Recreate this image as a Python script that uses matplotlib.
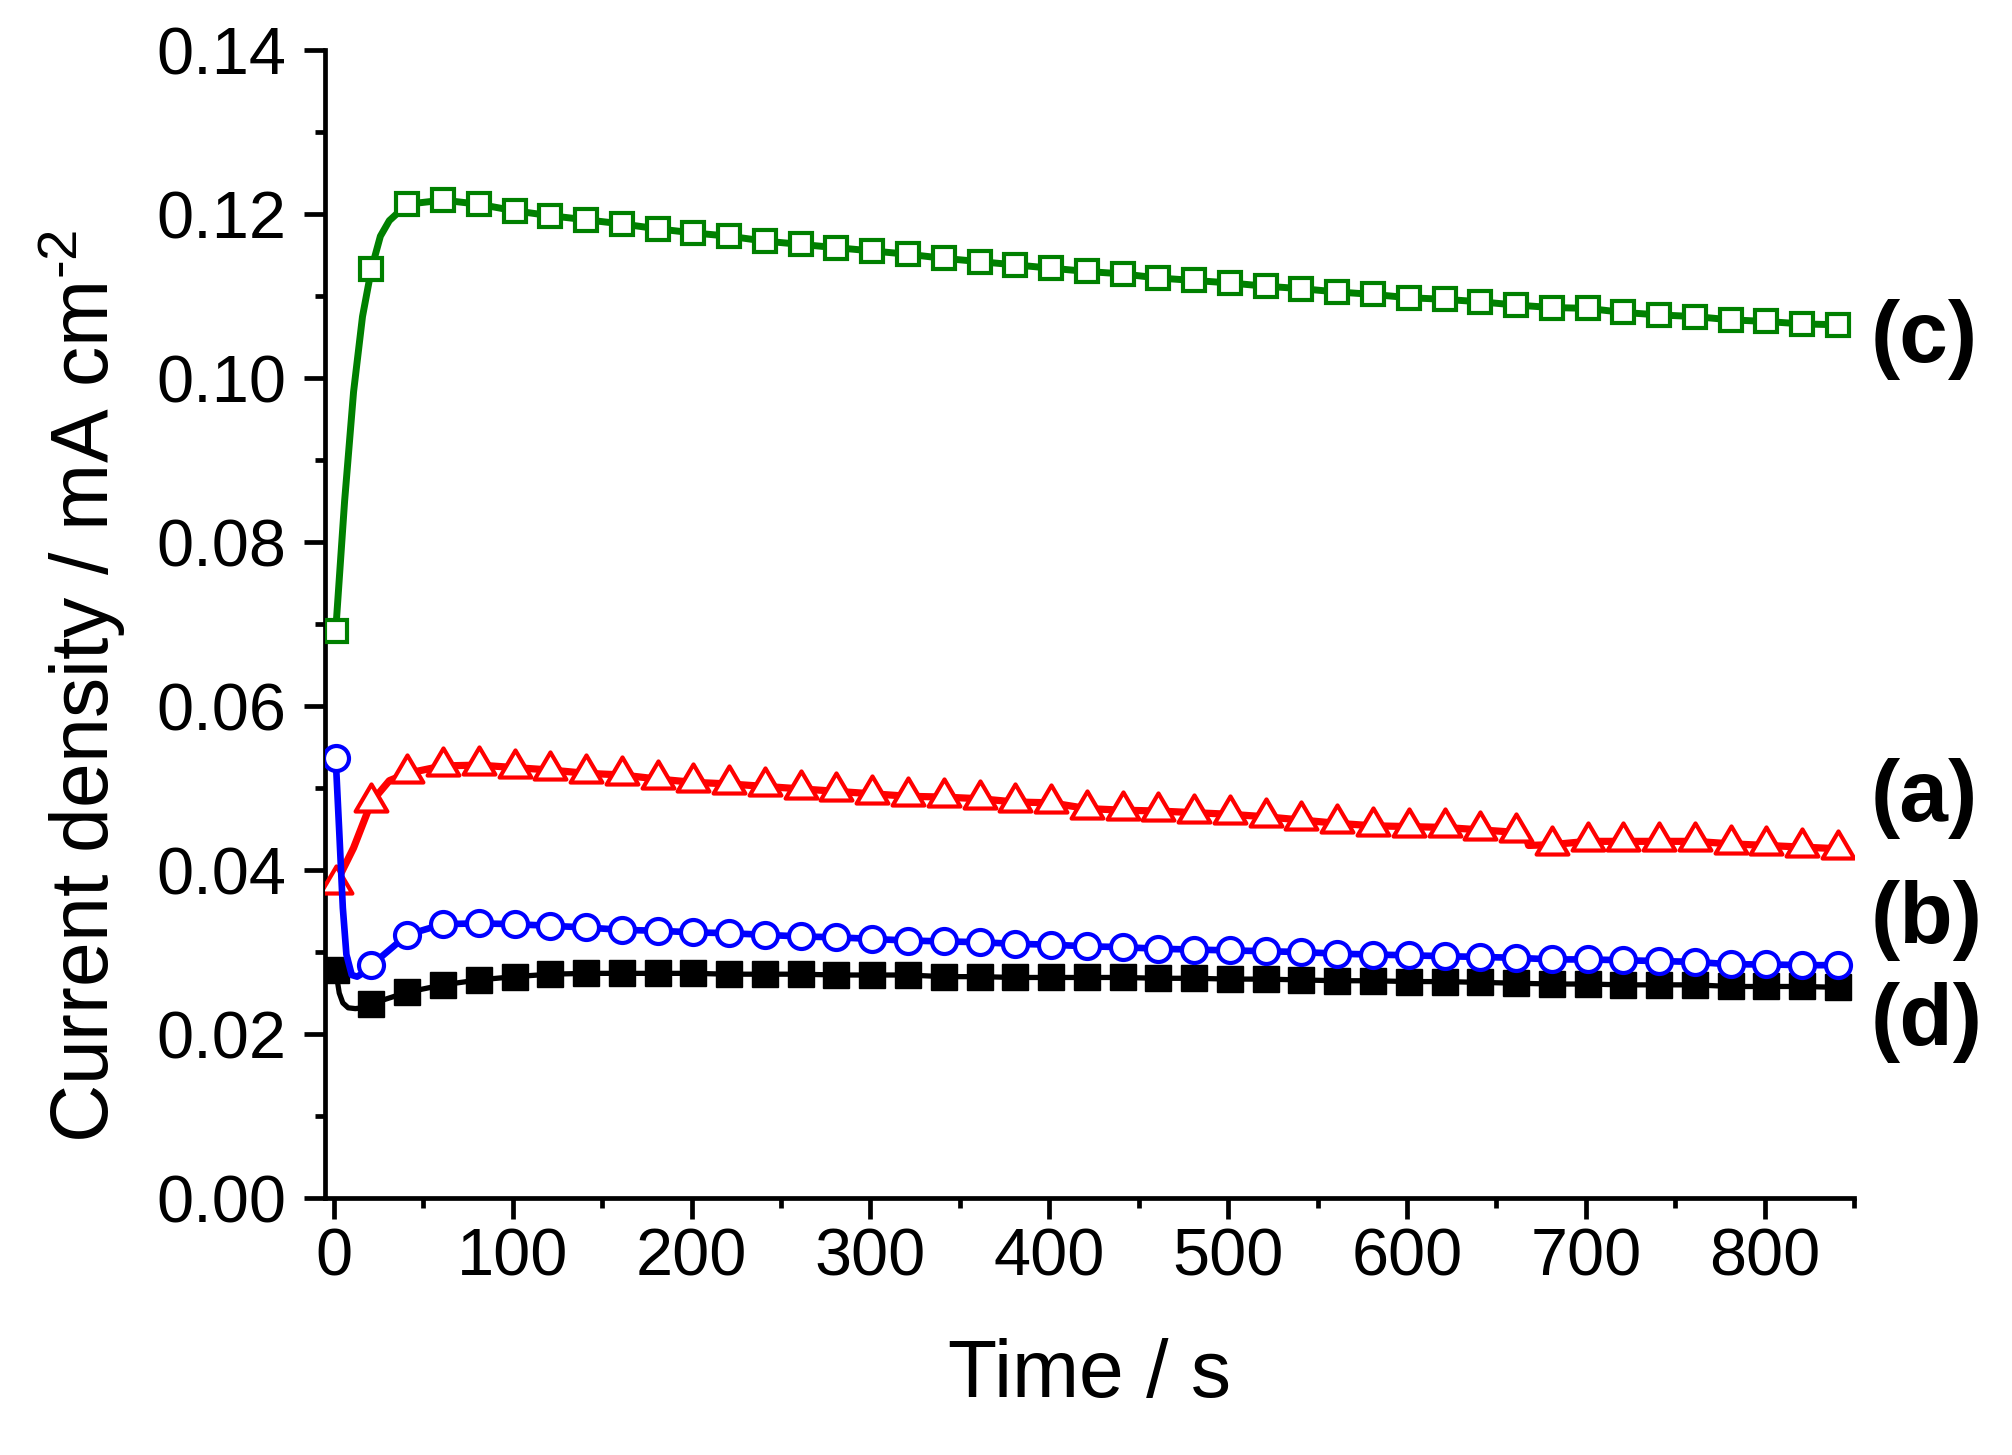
import matplotlib
matplotlib.use("Agg")
import matplotlib.pyplot as plt
from matplotlib.path import Path
from matplotlib.ticker import MultipleLocator, FormatStrFormatter
import numpy as np

plt.rcParams['font.family'] = ['Liberation Sans', 'DejaVu Sans']
plt.rcParams['mathtext.fontset'] = 'custom'
plt.rcParams['mathtext.rm'] = 'Liberation Sans'
plt.rcParams['mathtext.it'] = 'Liberation Sans:italic'
plt.rcParams['mathtext.bf'] = 'Liberation Sans:bold'

# sampled time points (markers), s
time = [1, 21, 41, 61, 81, 101, 121, 141, 161, 181, 201, 221, 241, 261, 281,
        301, 321, 341, 361, 381, 401, 421, 441, 461, 481, 501, 521, 541, 561,
        581, 601, 621, 641, 661, 681, 701, 721, 741, 761, 781, 801, 821, 841]

# current density, mA cm-2
curve_c = [0.0691, 0.1133, 0.1212, 0.1217, 0.1212, 0.1204, 0.1198, 0.1193, 0.1188,
           0.1182, 0.1177, 0.1173, 0.1167, 0.1163, 0.1159, 0.1155, 0.1151, 0.1146,
           0.1142, 0.1138, 0.1134, 0.1130, 0.1127, 0.1122, 0.1119, 0.1116, 0.1112,
           0.1109, 0.1105, 0.1102, 0.1098, 0.1096, 0.1093, 0.1089, 0.1086, 0.1085,
           0.1080, 0.1077, 0.1075, 0.1071, 0.1069, 0.1066, 0.1065]
curve_a = [0.0383, 0.0483, 0.0518, 0.0527, 0.0528, 0.0525, 0.0522, 0.0518, 0.0516,
           0.0511, 0.0507, 0.0505, 0.0502, 0.0499, 0.0496, 0.0493, 0.0490, 0.0489,
           0.0487, 0.0483, 0.0482, 0.0475, 0.0473, 0.0472, 0.0470, 0.0468, 0.0465,
           0.0461, 0.0457, 0.0454, 0.0453, 0.0452, 0.0449, 0.0446, 0.0431, 0.0435,
           0.0435, 0.0435, 0.0435, 0.0432, 0.0430, 0.0428, 0.0426]
curve_b = [0.0537, 0.0284, 0.0321, 0.0334, 0.0335, 0.0334, 0.0332, 0.0330, 0.0327,
           0.0326, 0.0324, 0.0323, 0.0321, 0.0319, 0.0318, 0.0316, 0.0314, 0.0313,
           0.0312, 0.0310, 0.0309, 0.0307, 0.0306, 0.0304, 0.0303, 0.0302, 0.0301,
           0.0300, 0.0298, 0.0297, 0.0296, 0.0295, 0.0294, 0.0293, 0.0291, 0.0291,
           0.0290, 0.0289, 0.0288, 0.0285, 0.0285, 0.0284, 0.0284]
curve_d = [0.0278, 0.0237, 0.0251, 0.0260, 0.0266, 0.0270, 0.0273, 0.0274, 0.0274,
           0.0274, 0.0274, 0.0273, 0.0273, 0.0273, 0.0272, 0.0272, 0.0272, 0.0270,
           0.0270, 0.0269, 0.0269, 0.0269, 0.0269, 0.0268, 0.0268, 0.0267, 0.0267,
           0.0266, 0.0265, 0.0265, 0.0264, 0.0264, 0.0263, 0.0262, 0.0261, 0.0261,
           0.0260, 0.0260, 0.0260, 0.0258, 0.0258, 0.0258, 0.0257]

# extra points of the recorded trace between markers (line only)
extra_t_c = [6, 11, 16, 26, 31]
extra_c = [0.0850, 0.0983, 0.1075, 0.1173, 0.1192]
extra_t_a = [11, 31, 666, 668]
extra_a = [0.0427, 0.0509, 0.0445, 0.0430]
extra_t_b = [3, 5, 7, 10, 13, 16]
extra_b = [0.0447, 0.0354, 0.0297, 0.0272, 0.0270, 0.0274]
extra_t_d = [3, 5, 8, 12, 16]
extra_d = [0.0250, 0.0238, 0.0232, 0.0231, 0.0232]

labels = ["(c)", "(a)", "(b)", "(d)"]
label_y = [0.1047, 0.0487, 0.0339, 0.0214]

# triangle with its centroid at the data point
tri = Path([(0, 1), (-0.88, -0.5), (0.88, -0.5), (0, 1)],
           [Path.MOVETO, Path.LINETO, Path.LINETO, Path.CLOSEPOLY])


def trace(t, y, et, ey):
    tt = np.concatenate([t, et])
    yy = np.concatenate([y, ey])
    order = np.argsort(tt)
    return tt[order], yy[order]


fig = plt.figure(figsize=(20.12, 14.55), dpi=100)
ax = fig.add_axes([0.1615, 0.1766, 0.7600, 0.7890])

series = [
    (curve_c, extra_t_c, extra_c, "#008000", "s", 16, "white", 5.0, 3.0),
    (curve_a, extra_t_a, extra_a, "#ff0000", tri, 26, "white", 5.2, 3.0),
    (curve_d, extra_t_d, extra_d, "black", "s", 18.5, "black", 3.8, 1.0),
    (curve_b, extra_t_b, extra_b, "#0000ff", "o", 18, "white", 4.8, 3.0),
]
z = 2
for vals, et, ev, col, mk, ms, fc, lw, mew in series:
    tt, yy = trace(np.array(time, float), np.array(vals), np.array(et, float), np.array(ev))
    ax.plot(tt, yy, color=col, lw=lw, zorder=z, solid_joinstyle="round")
    ax.plot(time, vals, ls="none", marker=mk, ms=ms, mfc=fc, mec=col, mew=mew, zorder=z + 1)
    z += 2

for lab, ly in zip(labels, label_y):
    ax.text(859, ly, lab, fontsize=63, fontweight="bold", ha="left", va="center", clip_on=False)

ax.set_xlim(-5, 850)
ax.set_ylim(0, 0.14)
ax.xaxis.set_major_locator(MultipleLocator(100))
ax.xaxis.set_minor_locator(MultipleLocator(50))
ax.yaxis.set_major_locator(MultipleLocator(0.02))
ax.yaxis.set_minor_locator(MultipleLocator(0.01))
ax.yaxis.set_major_formatter(FormatStrFormatter("%.2f"))

for s in ["top", "right"]:
    ax.spines[s].set_visible(False)
for s in ["left", "bottom"]:
    ax.spines[s].set_linewidth(3.4)

ax.tick_params(which="major", direction="out", length=15, width=3.4, labelsize=48)
ax.tick_params(which="minor", direction="out", length=7, width=3.4)
ax.tick_params(axis="y", which="major", pad=13)
ax.tick_params(axis="x", which="major", pad=6)

ax.set_xlabel("Time / s", fontsize=58)
ax.set_ylabel("Current density / mA cm$^{\\text{-2}}$", fontsize=58)
ax.xaxis.set_label_coords(0.5, -0.122)
ax.xaxis.label.set_va("top")
ax.yaxis.set_label_coords(-0.1295, 0.446)

fig.savefig("out.png", dpi=100)
